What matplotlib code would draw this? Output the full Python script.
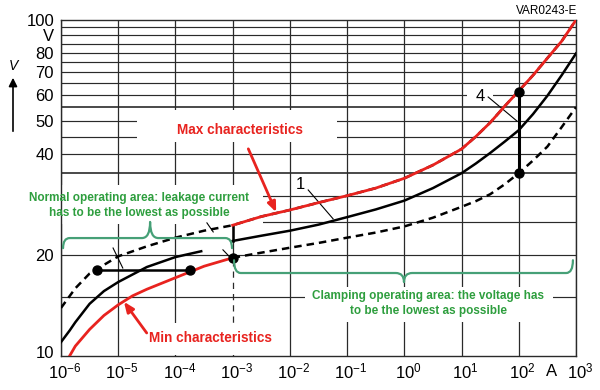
import matplotlib
matplotlib.use('Agg')
import matplotlib.pyplot as plt
from matplotlib.path import Path
from matplotlib.patches import PathPatch, Rectangle, FancyArrowPatch
from matplotlib.transforms import ScaledTranslation

plt.rcParams['font.family'] = ['Liberation Sans', 'DejaVu Sans']
plt.rcParams['mathtext.fontset'] = 'custom'
plt.rcParams['mathtext.rm'] = 'Liberation Sans'
plt.rcParams['mathtext.it'] = 'Liberation Sans:italic'
plt.rcParams['mathtext.bf'] = 'Liberation Sans:bold'

# ---------------- data (log10 of current in A, voltage in V) ----------------
max_logI = [-6.0, -5.75, -5.5, -5.0, -4.5, -4.0, -3.5, -3.0, -2.5, -2.0, -1.5, -1.0,
            -0.5, 0.0, 0.5, 1.0, 1.25, 1.5, 1.75, 2.0, 2.25, 2.5, 2.75, 3.0]
max_V = [13.9, 15.9, 17.6, 19.8, 21.2, 22.5, 23.6, 24.5, 26.0, 27.2, 28.6, 30.0,
         31.6, 33.8, 37.0, 41.3, 45.0, 49.5, 55.3, 61.5, 68.5, 77.0, 86.5, 100.0]

typ_left_logI = [-6.0, -5.85, -5.75, -5.5, -5.25, -5.0, -4.5, -4.0, -3.55]
typ_left_V = [11.0, 11.9, 12.6, 14.3, 15.6, 16.6, 18.4, 19.7, 20.5]
typ_right_logI = [-3.0, -2.5, -2.0, -1.5, -1.0, -0.5, 0.0, 0.5, 1.0, 1.25, 1.5, 1.75,
                  2.0, 2.25, 2.5, 2.75, 3.0]
typ_right_V = [22.0, 22.8, 23.6, 24.6, 25.9, 27.3, 29.0, 31.6, 35.0, 37.4, 40.2, 43.4,
               47.0, 52.5, 59.5, 68.5, 79.5]

min_left_logI = [-5.85, -5.75, -5.5, -5.25, -5.0, -4.75, -4.5, -4.0, -3.5, -3.0]
min_left_V = [10.0, 10.7, 12.0, 13.2, 14.2, 15.1, 15.8, 17.1, 18.5, 19.6]
min_right_logI = [-3.0, -2.5, -2.0, -1.5, -1.0, -0.5, 0.0, 0.5, 1.0, 1.25, 1.5, 1.75,
                  2.0, 2.25, 2.5, 2.75, 3.0]
min_right_V = [19.6, 20.3, 21.0, 21.7, 22.5, 23.3, 24.3, 25.8, 27.8, 28.9, 30.3, 32.4,
               35.0, 38.2, 42.0, 48.0, 55.0]

# marked points
dot_logI = [-5.37, -3.75, -3.0, 2.0, 2.0]
dot_V = [18.0, 18.0, 19.6, 61.0, 35.0]

x_decades = [-6, -5, -4, -3, -2, -1, 0, 1, 2, 3]
y_grid = [15, 20, 25, 30, 35, 40, 45, 50, 55, 60, 65, 70, 75, 80, 85, 90, 95, 100]
y_thick = [35, 55, 100]
y_ticks = [10, 20, 40, 50, 60, 70, 80, 90, 100]
y_ticklabels = ['10', '20', '40', '50', '60', '70', '80', 'V', '100']

RED = '#e8231f'
GREEN_TXT = '#2e9e3e'
GREEN_BR = '#46a077'
GRID = '#2a2a2a'


def I(l):
    return [10.0 ** v for v in l]


fig = plt.figure(figsize=(6.0, 3.9), dpi=100)
ax = fig.add_axes([61 / 600, 34 / 390, 515 / 600, 336 / 390])
ax.set_xscale('log')
ax.set_yscale('log')
ax.set_xlim(1e-6, 1e3)
ax.set_ylim(10, 100)

# grid
for d in x_decades:
    if d == -3:
        ax.plot([1e-3, 1e-3], [10, 19.6], color=GRID, lw=0.9, ls=(0, (5, 4)), zorder=1)
        ax.plot([1e-3, 1e-3], [19.6, 100], color=GRID, lw=0.9, zorder=1)
    else:
        ax.axvline(10.0 ** d, color=GRID, lw=0.9, zorder=1)
for v in y_grid:
    ax.axhline(v, color=GRID, lw=1.2 if v in y_thick else 0.85, zorder=1)
for s in ax.spines.values():
    s.set_color(GRID)
    s.set_linewidth(1.0)

# white masks behind labels (axes fraction)
masks = [(-0.08, 0.393, 0.472, 0.116),   # normal operating text
         (0.148, 0.637, 0.388, 0.095),    # max characteristics
         (0.474, 0.101, 0.481, 0.104),    # clamping text
         (0.153, 0.003, 0.272, 0.095),    # min characteristics
         (0.788, 0.744, 0.051, 0.054)]    # label 4
for (x0, y0, w, h) in masks:
    ax.add_patch(Rectangle((x0, y0), w, h, transform=ax.transAxes, facecolor='white',
                           edgecolor='none', zorder=2, clip_on=False))

# curves
ax.plot(I(max_logI), max_V, color='black', lw=1.8, ls=(0, (3, 2)), zorder=3)
red_i = [i for i, v in enumerate(max_logI) if v >= -3.0]
ax.plot(I([max_logI[i] for i in red_i]), [max_V[i] for i in red_i], color=RED, lw=2.0, zorder=4)
ax.plot(I(typ_left_logI), typ_left_V, color='black', lw=1.8, zorder=3)
ax.plot(I(typ_right_logI), typ_right_V, color='black', lw=1.8, zorder=3)
ax.plot(I(min_left_logI), min_left_V, color=RED, lw=2.0, zorder=4)
ax.plot(I(min_right_logI), min_right_V, color='black', lw=1.8, ls=(0, (3, 2)), zorder=3)

# connecting segments
ax.plot(I([dot_logI[0], dot_logI[1]]), [dot_V[0], dot_V[1]], color='black', lw=1.8, zorder=3)
ax.plot(I([-3.0, -3.0]), [typ_right_V[0], max_V[max_logI.index(-3.0)]], color='black', lw=1.8, zorder=3)
ax.plot(I([dot_logI[3], dot_logI[4]]), [dot_V[3], dot_V[4]], color='black', lw=2.2, zorder=3)
ax.scatter(I(dot_logI), dot_V, s=42, color='black', zorder=5)

# leader lines
leaders = [((-1.68, 31.2), (-1.245, 25.6)), ((1.465, 59.0), (1.97, 50.0)),
           ((-5.09, 20.96), (-4.92, 18.27)), ((-3.45, 24.9), (-3.34, 23.4)),
           ((-3.17, 20.7), (-3.05, 19.7))]
for (a, b) in leaders:
    ax.plot(I([a[0], b[0]]), [a[1], b[1]], color='black', lw=0.8, zorder=3)
ax.text(10 ** -1.82, 32.3, '1', fontsize=12, ha='center', va='center', zorder=6)
ax.text(10 ** 1.325, 59.0, '4', fontsize=12, ha='center', va='center', zorder=6)


# braces (axes fraction)
def brace(x0, x1, y, end_dy, tip_x, tip_dy, r=0.013, rt=0.016):
    verts = [(x0, y + end_dy), (x0, y), (x0 + r, y),
             (tip_x - rt, y),
             (tip_x, y), (tip_x, y + tip_dy),
             (tip_x, y), (tip_x + rt, y),
             (x1 - r, y),
             (x1, y), (x1, y + end_dy)]
    codes = [Path.MOVETO, Path.CURVE3, Path.CURVE3, Path.LINETO, Path.CURVE3, Path.CURVE3,
             Path.CURVE3, Path.CURVE3, Path.LINETO, Path.CURVE3, Path.CURVE3]
    ax.add_patch(PathPatch(Path(verts, codes), transform=ax.transAxes, facecolor='none',
                           edgecolor=GREEN_BR, lw=1.6, zorder=6, clip_on=False,
                           capstyle='round', joinstyle='round'))


brace(0.004, 0.332, 0.351, -0.030, 0.173, 0.048)
brace(0.336, 0.994, 0.247, 0.038, 0.666, -0.027)

# annotations
ax.text(10 ** -4.64, 28.0, 'Normal operating area: leakage current\nhas to be the lowest as possible',
        color=GREEN_TXT, fontsize=8.5, fontweight='bold', ha='center', va='center',
        linespacing=1.3, zorder=6)
ax.text(10 ** 0.42, 14.3, 'Clamping operating area: the voltage has\nto be the lowest as possible',
        color=GREEN_TXT, fontsize=8.5, fontweight='bold', ha='center', va='center',
        linespacing=1.3, zorder=6)
ax.annotate('Max characteristics', xy=(10 ** -2.24, 26.8), xytext=(10 ** -2.87, 47.0),
            color=RED, fontsize=9.8, fontweight='bold', ha='center', va='center', zorder=6,
            arrowprops=dict(arrowstyle='-|>,head_length=0.6,head_width=0.25', color=RED, lw=2.0,
                            shrinkA=7, shrinkB=0))
ax.annotate('Min characteristics', xy=(10 ** -4.90, 14.5), xytext=(10 ** -3.38, 11.3),
            color=RED, fontsize=9.8, fontweight='bold', ha='center', va='center', zorder=6,
            arrowprops=dict(arrowstyle='-|>,head_length=0.6,head_width=0.25', color=RED, lw=2.0,
                            shrinkA=0, shrinkB=0, relpos=(0.0, 0.6)))

# ticks
ax.set_xticks([10.0 ** d for d in x_decades])
ax.set_xticklabels(['$10^{%d}$' % d for d in x_decades], fontsize=12)
ax.set_yticks(y_ticks)
ax.set_yticklabels(y_ticklabels, fontsize=12)
ax.xaxis.set_minor_locator(matplotlib.ticker.NullLocator())
ax.yaxis.set_minor_locator(matplotlib.ticker.NullLocator())
ax.tick_params(axis='both', length=0)
ax.tick_params(axis='x', pad=4)
ax.tick_params(axis='y', pad=5)
for lab in ax.get_xticklabels():
    lab.set_transform(lab.get_transform() + ScaledTranslation(4 / 100, 0, fig.dpi_scale_trans))
ylabs = ax.get_yticklabels()
ylabs[0].set_transform(ylabs[0].get_transform() + ScaledTranslation(0, 4 / 100, fig.dpi_scale_trans))

fig.text(552 / 600, 1 - 372 / 390, 'A', fontsize=12, ha='center', va='center')
fig.text(577 / 600, 1 - 11 / 390, 'VAR0243-E', fontsize=8.5, ha='right', va='center')
fig.text(13 / 600, 1 - 66 / 390, 'V', fontsize=10, style='italic', ha='center', va='center')
fig.add_artist(FancyArrowPatch(
    (13 / 600, 1 - 134 / 390), (13 / 600, 1 - 75 / 390), transform=fig.transFigure,
    arrowstyle='-|>,head_length=5,head_width=2.5', color='black', lw=1.2))

fig.savefig('out.png', dpi=100, facecolor='white')
